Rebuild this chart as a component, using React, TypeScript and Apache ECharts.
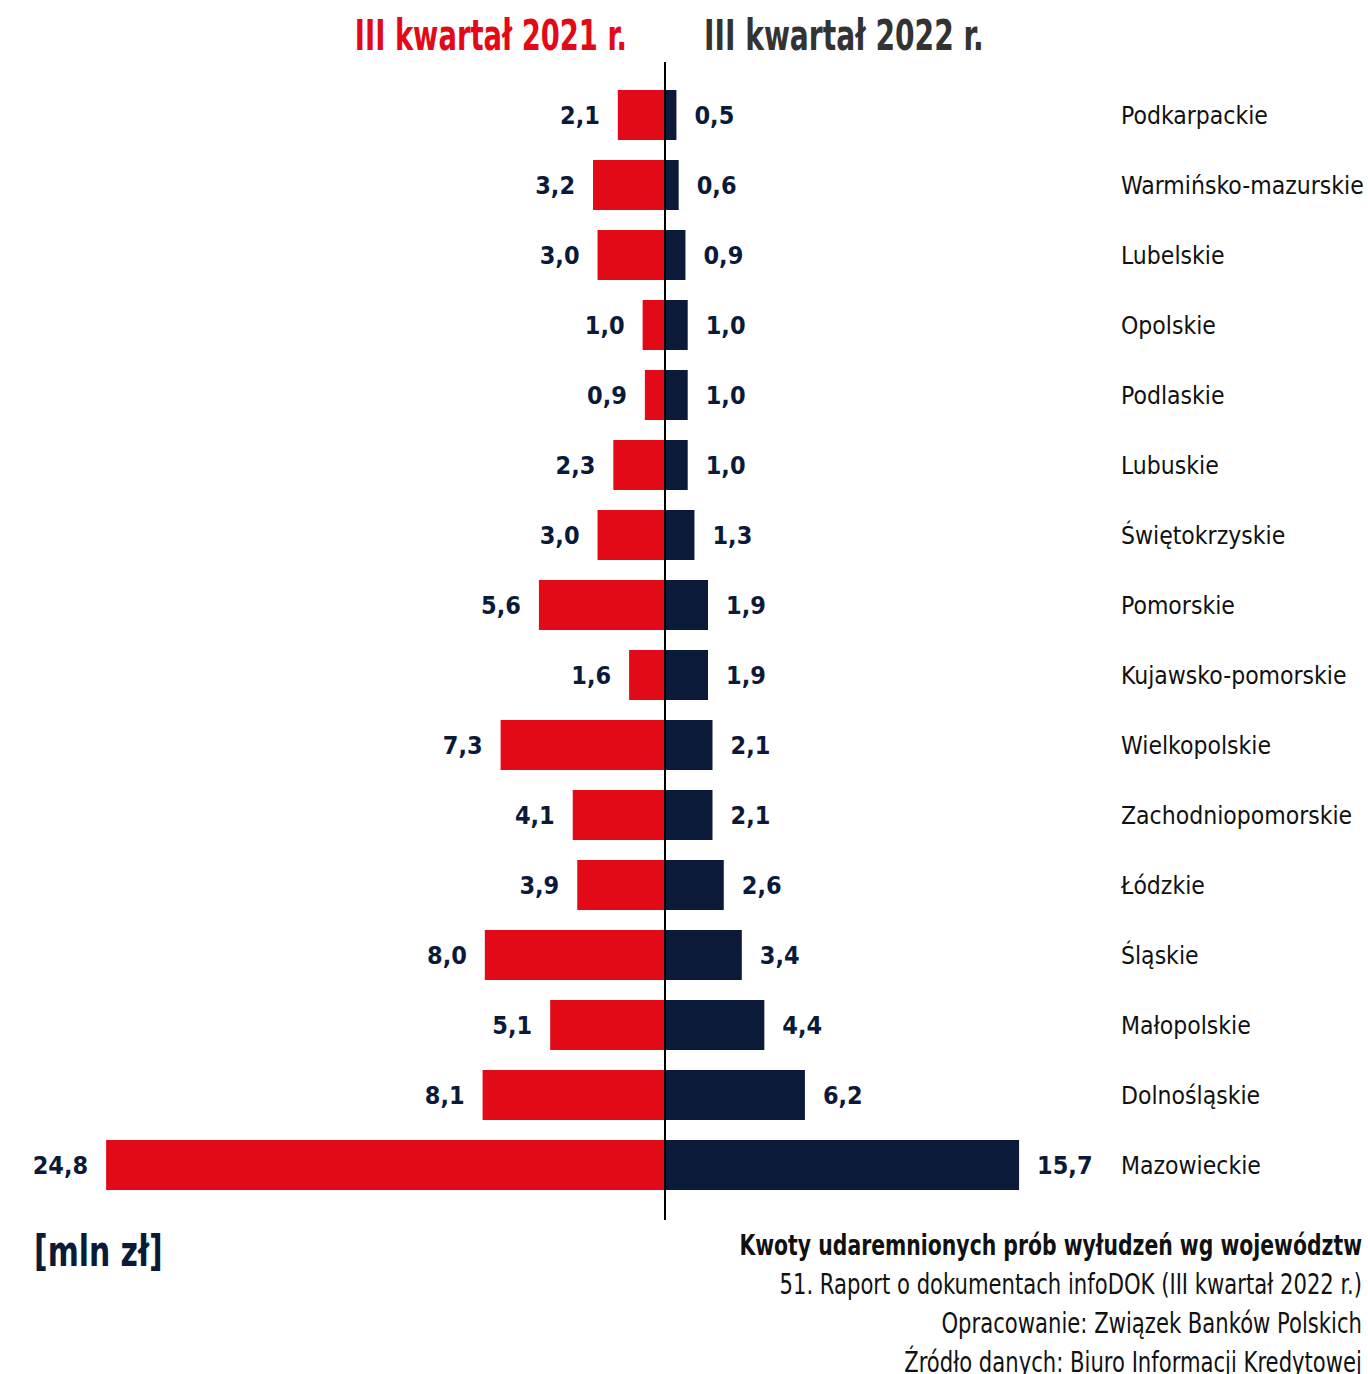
import React, { useEffect, useRef } from "react";
import * as echarts from "echarts";

const regions = [
  "Podkarpackie",
  "Warmińsko-mazurskie",
  "Lubelskie",
  "Opolskie",
  "Podlaskie",
  "Lubuskie",
  "Świętokrzyskie",
  "Pomorskie",
  "Kujawsko-pomorskie",
  "Wielkopolskie",
  "Zachodniopomorskie",
  "Łódzkie",
  "Śląskie",
  "Małopolskie",
  "Dolnośląskie",
  "Mazowieckie",
];
const q3_2021 = [2.1, 3.2, 3.0, 1.0, 0.9, 2.3, 3.0, 5.6, 1.6, 7.3, 4.1, 3.9, 8.0, 5.1, 8.1, 24.8];
const q3_2022 = [0.5, 0.6, 0.9, 1.0, 1.0, 1.0, 1.3, 1.9, 1.9, 2.1, 2.1, 2.6, 3.4, 4.4, 6.2, 15.7];
const title2021 = "III kwartał 2021 r.";
const title2022 = "III kwartał 2022 r.";
const unitLabel = "[mln zł]";
const footerLines = [
  "Kwoty udaremnionych prób wyłudzeń wg województw",
  "51. Raport o dokumentach infoDOK (III kwartał 2022 r.)",
  "Opracowanie: Związek Banków Polskich",
  "Źródło danych: Biuro Informacji Kredytowej",
];

const FONT = "'DejaVu Sans Condensed', 'Liberation Sans Narrow', 'Roboto', sans-serif";
const RED = "#e20a16";
const NAVY = "#0c1a3a";

const fmt = (v: number) => Math.abs(v).toFixed(1).replace(".", ",");

export default function App() {
  const ref = useRef<HTMLDivElement>(null);
  useEffect(() => {
    if (!ref.current) return;
    const chart = echarts.init(ref.current, null, { renderer: "svg" });
    chart.setOption({
      animation: false,
      backgroundColor: "#ffffff",
      textStyle: { fontFamily: FONT },
      grid: {
        left: 34,
        width: 1082,
        top: 80,
        height: 1120,
        containLabel: false,
        outerBoundsMode: "none",
      },
      xAxis: {
        type: "value",
        min: -28,
        max: 20,
        show: false,
      },
      yAxis: {
        type: "category",
        inverse: true,
        position: "right",
        data: regions,
        axisLine: { show: false },
        axisTick: { show: false },
        axisLabel: {
          margin: 5,
          align: "left",
          fontFamily: FONT,
          fontSize: 24.5,
          color: "#111111",
        },
      },
      series: [
        {
          name: title2021,
          type: "bar",
          stack: "total",
          barWidth: 50,
          data: q3_2021.map((v) => -v),
          itemStyle: { color: RED },
          label: {
            show: true,
            position: "left",
            distance: 18,
            formatter: (p: any) => fmt(p.value),
            fontFamily: FONT,
            fontWeight: "bold",
            fontSize: 25,
            color: NAVY,
          },
        },
        {
          name: title2022,
          type: "bar",
          stack: "total",
          barWidth: 50,
          data: q3_2022,
          itemStyle: { color: NAVY },
          label: {
            show: true,
            position: "right",
            distance: 18,
            formatter: (p: any) => fmt(p.value),
            fontFamily: FONT,
            fontWeight: "bold",
            fontSize: 25,
            color: NAVY,
          },
        },
      ],
      graphic: [
        {
          type: "line",
          shape: { x1: 665, y1: 62, x2: 665, y2: 1220 },
          style: { stroke: "#000000", lineWidth: 2 },
          z: 100,
        },
        {
          type: "text",
          x: 627,
          y: 36,
          scaleX: 0.725,
          style: {
            text: title2021,
            fill: RED,
            font: `bold 42px ${FONT}`,
            textAlign: "right",
            textVerticalAlign: "middle",
          },
        },
        {
          type: "text",
          x: 704,
          y: 36,
          scaleX: 0.745,
          style: {
            text: title2022,
            fill: "#333333",
            font: `bold 42px ${FONT}`,
            textAlign: "left",
            textVerticalAlign: "middle",
          },
        },
        {
          type: "text",
          x: 34,
          y: 1252,
          scaleX: 0.79,
          style: {
            text: unitLabel,
            fill: NAVY,
            font: `bold 42px ${FONT}`,
            textAlign: "left",
            textVerticalAlign: "middle",
          },
        },
        ...footerLines.map((t, i) => ({
          type: "text",
          x: 1362,
          y: 1245 + i * 39,
          scaleX: i === 0 ? 0.81 : 0.84,
          style: {
            text: t,
            fill: "#111111",
            font: `${i === 0 ? "bold " : ""}28px ${FONT}`,
            textAlign: "right",
            textVerticalAlign: "middle",
          },
        })),
      ],
    });
    return () => chart.dispose();
  }, []);
  return (
    <div
      ref={ref}
      style={{ position: "absolute", left: 0, top: 0, width: 1368, height: 1374 }}
    />
  );
}
